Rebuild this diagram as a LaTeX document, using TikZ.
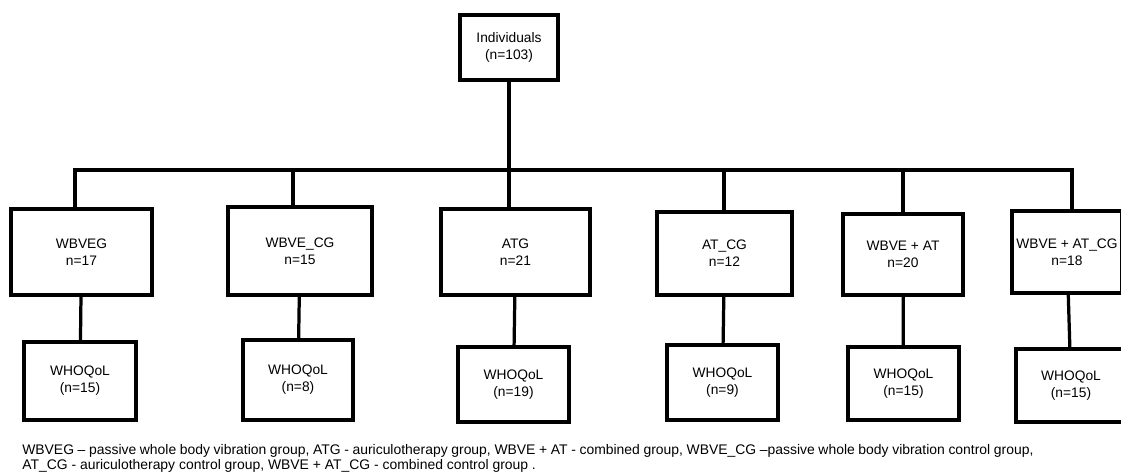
\documentclass[tikz,border=0pt]{standalone}
\usepackage{fontspec}
\setmainfont{Liberation Sans}
\usetikzlibrary{positioning}

\begin{document}
\begin{tikzpicture}[x=0.025cm, y=-0.025cm,
    grp/.style={draw, line width=2.3pt, align=center, inner sep=0pt,
                font=\fontsize{9.8}{12}\selectfont},
    link/.style={line width=2.3pt}]
          \useasboundingbox (0,0) rectangle (1121,473);

          \node[grp, line width=2.8pt, minimum width=2.45cm, minimum height=1.625cm] (Individuals) at (509,47.5) {Individuals\\(n=103)};

          \node[grp, minimum width=3.525cm, minimum height=2.15cm] (WBVEG) at (81.5,252) {WBVEG\\n=17};
          \node[grp, minimum width=3.6cm, minimum height=2.2cm] (WBVECG) at (300,251) {WBVE\_CG\\n=15};
          \node[grp, minimum width=3.725cm, minimum height=2.15cm] (ATG) at (515.5,252) {ATG\\n=21};
          \node[grp, minimum width=3.375cm, minimum height=2.075cm] (ATCG) at (724.5,253.5) {AT\_CG\\n=12};
          \node[grp, minimum width=3.0cm, minimum height=2.025cm] (WBVEAT) at (903,254.5) {WBVE + AT\\n=20};
          \node[grp, minimum width=2.75cm, minimum height=2.05cm] (WBVEATCG) at (1067,252) {WBVE + AT\_CG\\n=18};

          \node[grp, minimum width=2.8cm, minimum height=1.95cm] (WHOQoLa) at (80,381) {WHOQoL\\(n=15)};
          \node[grp, minimum width=2.75cm, minimum height=2.0cm] (WHOQoLb) at (298,380) {WHOQoL\\(n=8)};
          \node[grp, minimum width=2.775cm, minimum height=1.875cm] (WHOQoLc) at (513.5,384.5) {WHOQoL\\(n=19)};
          \node[grp, minimum width=2.775cm, minimum height=1.875cm] (WHOQoLd) at (722.5,382.5) {WHOQoL\\(n=9)};
          \node[grp, minimum width=2.775cm, minimum height=1.825cm] (WHOQoLe) at (903.5,383.5) {WHOQoL\\(n=15)};
          \node[grp, minimum width=2.75cm, minimum height=1.825cm] (WHOQoLf) at (1071,385.5) {WHOQoL\\(n=15)};

          % split line
          \coordinate (d1) at (75,170);
          \coordinate (d2) at (293,170);
          \coordinate (d3) at (509,170);
          \coordinate (d4) at (724,170);
          \coordinate (d5) at (903,170);
          \coordinate (d6) at (1072,170);

          \draw[link, line cap=rect] (d1) -- (d6);
          \draw[link] (Individuals) -- (d3);
          \draw[link] (d1) -- (d1 |- WBVEG.north);
          \draw[link] (d2) -- (d2 |- WBVECG.north);
          \draw[link] (d3) -- (d3 |- ATG.north);
          \draw[link] (d4) -- (d4 |- ATCG.north);
          \draw[link] (d5) -- (d5 |- WBVEAT.north);
          \draw[link] (d6) -- (d6 |- WBVEATCG.north);

          \draw[link] (WBVEG) -- (WHOQoLa);
          \draw[link] (WBVECG) -- (WHOQoLb);
          \draw[link] (ATG) -- (WHOQoLc);
          \draw[link] (ATCG) -- (WHOQoLd);
          \draw[link] (WBVEAT) -- (WHOQoLe);
          \draw[link] (WBVEATCG) -- (WHOQoLf);

          \node[anchor=north west, inner sep=0pt, text width=25.275cm, align=justify,
                font=\fontsize{9.9}{11}\selectfont] (legend) at (22,444)
                {WBVEG -- passive whole body vibration group, ATG - auriculotherapy group, WBVE + AT - combined group, WBVE\_CG --passive whole body vibration control group,\linebreak
                 AT\_CG - auriculotherapy control group, WBVE + AT\_CG - combined control group .};
        \end{tikzpicture}
\end{document}
